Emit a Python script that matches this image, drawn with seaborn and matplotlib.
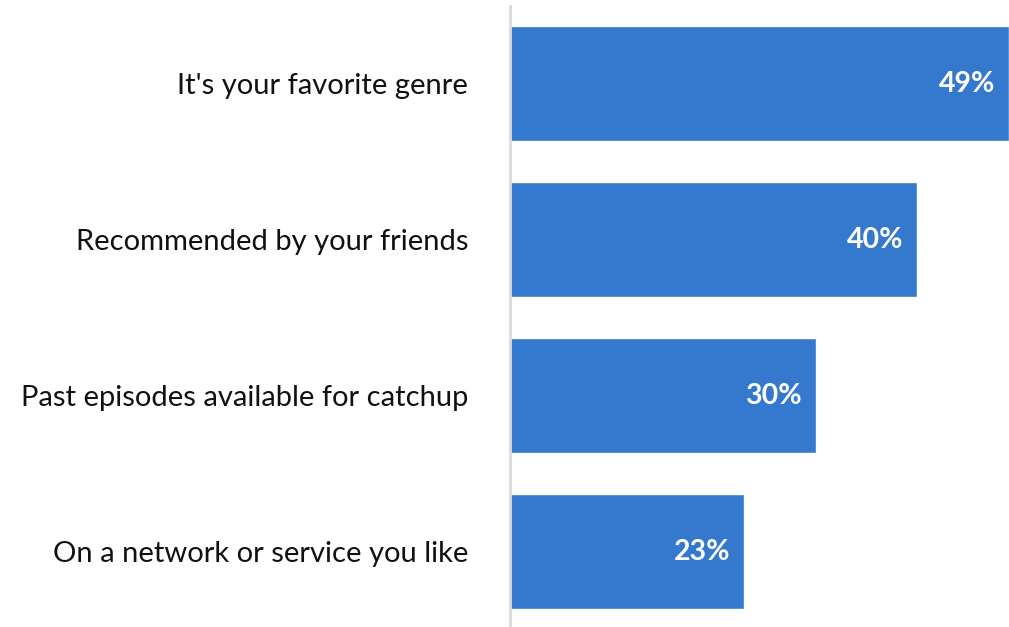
import matplotlib
matplotlib.use("Agg")
import matplotlib.pyplot as plt
import seaborn as sns
import pandas as pd

reasons = [
    "It's your favorite genre",
    "Recommended by your friends",
    "Past episodes available for catchup",
    "On a network or service you like",
]
shares = [49, 40, 30, 23]

df = pd.DataFrame({"reason": reasons, "share": shares})

sns.set_theme(style="white")
plt.rcParams["font.family"] = ["Lato", "DejaVu Sans"]

W, H = 1009, 627
fig = plt.figure(figsize=(W / 100, H / 100), dpi=100)
ax = fig.add_axes([510 / W, -2.5 / H, 1 - 510 / W, 624 / H])

bar_color = "#3479cd"
sns.barplot(data=df, x="share", y="reason", orient="h", color=bar_color,
            width=0.737, saturation=1, ax=ax)

ax.set_xlim(0, 49)
ax.set_ylim(3.5, -0.5)
ax.set_xlabel("")
ax.set_ylabel("")
ax.set_xticks([])
ax.tick_params(axis="y", length=0, pad=30, labelsize=21, labelcolor="#111111")

for side in ["top", "right", "bottom"]:
    ax.spines[side].set_visible(False)
ax.spines["left"].set_color("#d9d9d9")
ax.spines["left"].set_linewidth(2)

for i, v in enumerate(shares):
    ax.annotate(f"{v}%", xy=(v, i), xytext=(-10, 0), textcoords="offset points",
                ha="right", va="center", color="white", fontsize=20.5,
                fontweight="bold")

fig.savefig("out.png", dpi=100)
